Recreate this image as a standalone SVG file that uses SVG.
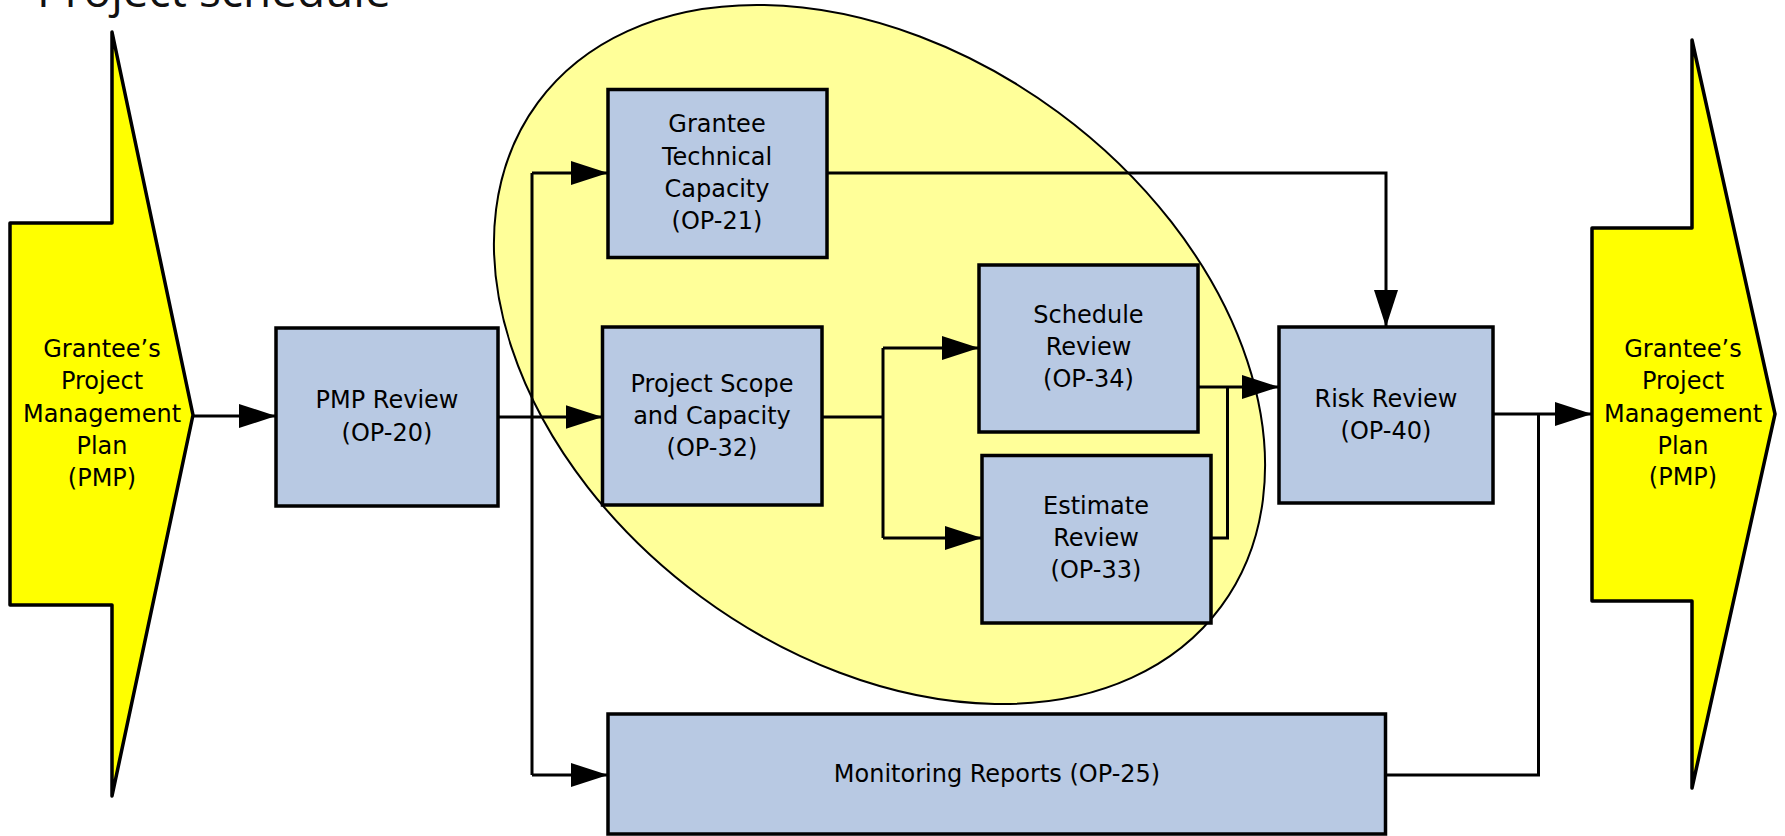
<svg xmlns="http://www.w3.org/2000/svg" width="1785" height="836" viewBox="0 0 1785 836">
  <style>
    .title { font-family: "Open Sans", "Liberation Sans", sans-serif; font-size: 46px; fill: #111; }
    .lbl { font-family: "DejaVu Sans", "Liberation Sans", sans-serif; font-size: 24px; fill: #000; text-anchor: middle; }
    .box { fill: #B8C9E3; stroke: #000; stroke-width: 3.5; }
    .pmp { fill: #FFFF00; stroke: #000; stroke-width: 3.5; stroke-linejoin: round; }
    .group { fill: #FFFF99; stroke: #000; stroke-width: 2; }
    .wire { fill: none; stroke: #000; stroke-width: 3; }
    .wire-arrow { fill: none; stroke: #000; stroke-width: 3; marker-end: url(#head); }
  </style>
  <defs>
    <marker id="head" markerUnits="userSpaceOnUse" markerWidth="37" markerHeight="24" refX="37" refY="12" orient="auto">
      <path d="M0,0 L37,12 L0,24 z" fill="#000"/>
    </marker>
  </defs>

  <rect width="1785" height="836" fill="#fff"/>

  <text class="title" x="37" y="7">Project schedule</text>

  <!-- planning review cluster -->
  <ellipse id="review-cluster" class="group" cx="879.5" cy="354.5" rx="424.5" ry="301" transform="rotate(36.4 879.5 354.5)"/>

  <!-- connectors -->
  <g id="connectors">
    <path class="wire-arrow" d="M193,416 H276"/>
    <path class="wire-arrow" d="M498,417 H602.5"/>
    <path class="wire" d="M532,173 V775"/>
    <path class="wire-arrow" d="M532,173 H608"/>
    <path class="wire-arrow" d="M532,775 H608"/>
    <path class="wire-arrow" d="M827,173 H1386 V327"/>
    <path class="wire" d="M822,417 H883"/>
    <path class="wire" d="M883,348 V538"/>
    <path class="wire-arrow" d="M883,348 H979"/>
    <path class="wire-arrow" d="M883,538 H982"/>
    <path class="wire-arrow" d="M1198,387 H1279"/>
    <path class="wire" d="M1211,538 H1227.5 V387"/>
    <path class="wire-arrow" d="M1493,414 H1592"/>
    <path class="wire" d="M1385.5,775 H1538.5 V414"/>
  </g>

  <g id="pmp-in">
    <polygon class="pmp" points="112,32 193,415 112,796 112,605 10,605 10,223 112,223"/>
    <text class="lbl" x="102" y="357">Grantee’s</text>
    <text class="lbl" x="102" y="389">Project</text>
    <text class="lbl" x="102" y="422">Management</text>
    <text class="lbl" x="102" y="454">Plan</text>
    <text class="lbl" x="102" y="486">(PMP)</text>
  </g>

  <g id="op-20">
    <rect class="box" x="276" y="328" width="222" height="178"/>
    <text class="lbl" x="387" y="408">PMP Review</text>
    <text class="lbl" x="387" y="441">(OP-20)</text>
  </g>

  <g id="op-21">
    <rect class="box" x="608" y="89.5" width="219" height="168"/>
    <text class="lbl" x="717" y="132">Grantee</text>
    <text class="lbl" x="717" y="165">Technical</text>
    <text class="lbl" x="717" y="197">Capacity</text>
    <text class="lbl" x="717" y="229">(OP-21)</text>
  </g>

  <g id="op-32">
    <rect class="box" x="602.5" y="327" width="219.5" height="178"/>
    <text class="lbl" x="712" y="392">Project Scope</text>
    <text class="lbl" x="712" y="424">and Capacity</text>
    <text class="lbl" x="712" y="456">(OP-32)</text>
  </g>

  <g id="op-34">
    <rect class="box" x="979" y="265" width="219" height="167"/>
    <text class="lbl" x="1088.5" y="323">Schedule</text>
    <text class="lbl" x="1088.5" y="355">Review</text>
    <text class="lbl" x="1088.5" y="387">(OP-34)</text>
  </g>

  <g id="op-33">
    <rect class="box" x="982" y="455.5" width="229" height="167.5"/>
    <text class="lbl" x="1096" y="514">Estimate</text>
    <text class="lbl" x="1096" y="546">Review</text>
    <text class="lbl" x="1096" y="578">(OP-33)</text>
  </g>

  <g id="op-40">
    <rect class="box" x="1279" y="327" width="214" height="176"/>
    <text class="lbl" x="1386" y="407">Risk Review</text>
    <text class="lbl" x="1386" y="439">(OP-40)</text>
  </g>

  <g id="op-25">
    <rect class="box" x="608" y="714" width="777.5" height="120"/>
    <text class="lbl" x="997" y="782">Monitoring Reports (OP-25)</text>
  </g>

  <g id="pmp-out">
    <polygon class="pmp" points="1692,40 1775,414 1692,788 1692,601 1592,601 1592,228 1692,228"/>
    <text class="lbl" x="1683" y="357">Grantee’s</text>
    <text class="lbl" x="1683" y="389">Project</text>
    <text class="lbl" x="1683" y="422">Management</text>
    <text class="lbl" x="1683" y="454">Plan</text>
    <text class="lbl" x="1683" y="485">(PMP)</text>
  </g>
</svg>
